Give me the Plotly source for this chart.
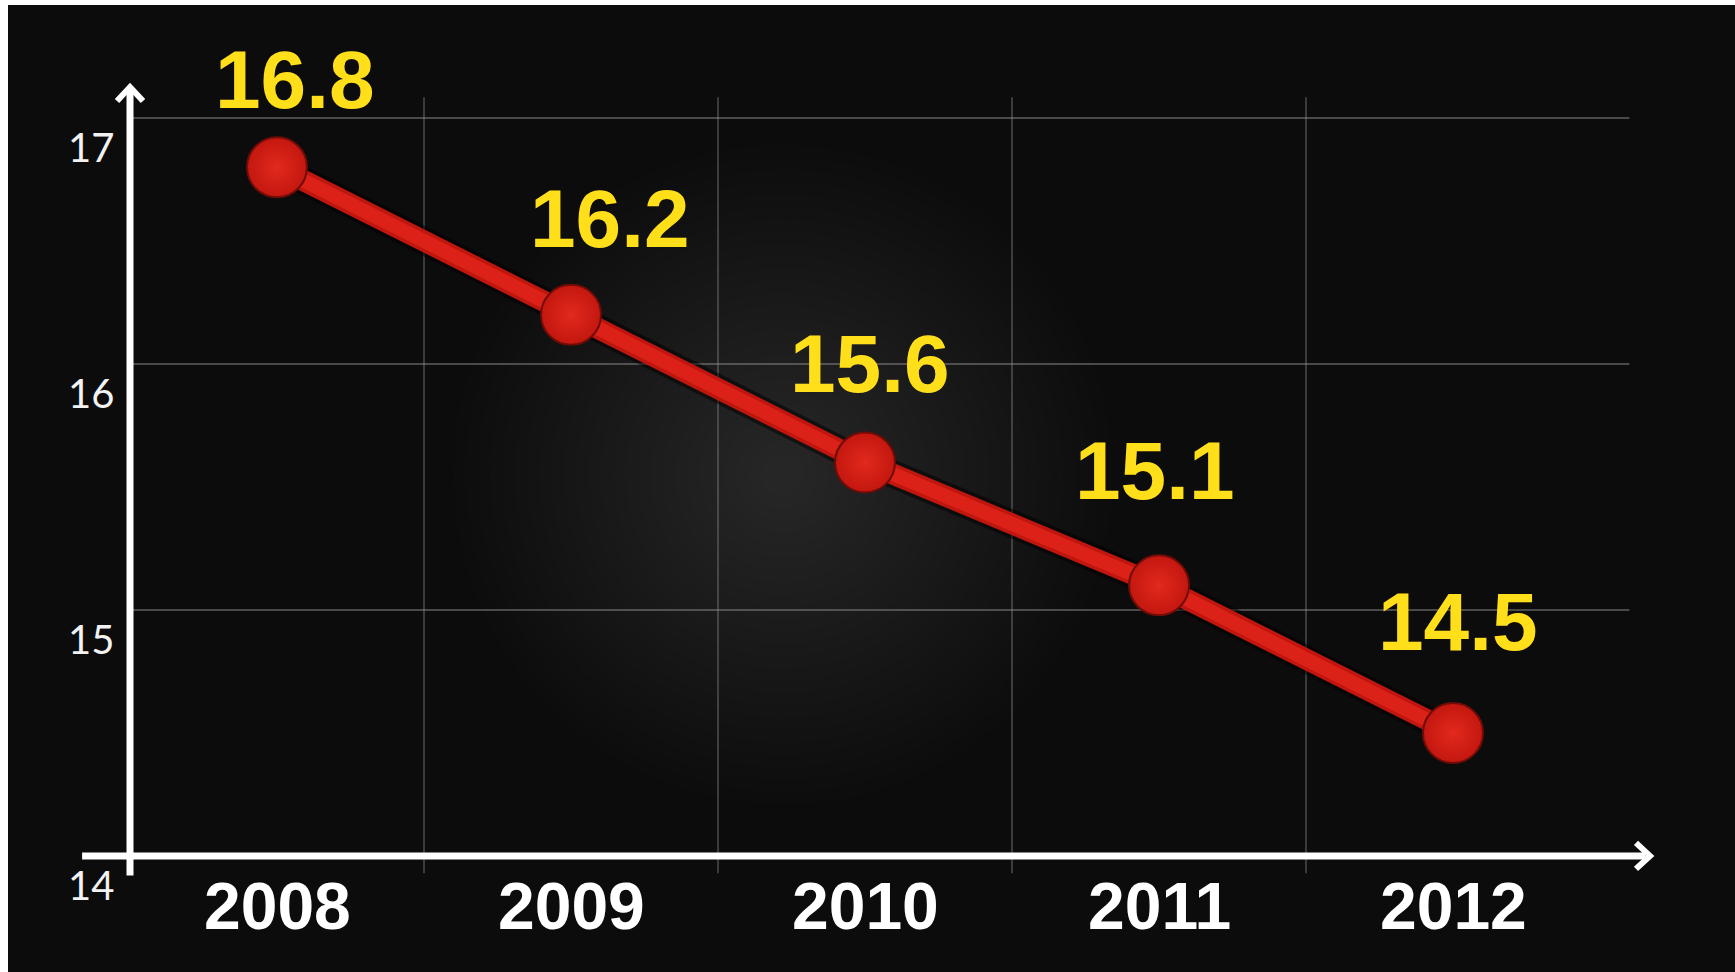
import plotly.graph_objects as go

# ---- data ----
years = ["2008", "2009", "2010", "2011", "2012"]
values = [16.8, 16.2, 15.6, 15.1, 14.5]
y_ticks = [14, 15, 16, 17]

# value label nudges (pixels) so each label sits clear of the line
label_dx = [18, 39, 5, -4, 5]
label_dy = [88, 96, 99, 115, 111]

xs = list(range(len(years)))

BG = "#0c0c0c"
YELLOW = "#ffde1a"
W, H = 1735, 972

# axis geometry in data units
X_MIN, X_MAX = -0.9422, 4.9592
Y_MIN, Y_MAX = 13.528, 17.480
AXIS_X = -0.5          # vertical axis sits half a step left of the first year
BASE_Y = y_ticks[0]    # horizontal axis sits at the lowest tick

fig = go.Figure()

# soft shadow under the tube
fig.add_trace(go.Scatter(
    x=xs, y=values, mode="lines",
    line=dict(color="rgba(0,0,0,0.5)", width=28),
    hoverinfo="skip", showlegend=False,
))
# red tube
fig.add_trace(go.Scatter(
    x=xs, y=values, mode="lines",
    line=dict(color="#bf160f", width=21),
    hoverinfo="skip", showlegend=False,
))
fig.add_trace(go.Scatter(
    x=xs, y=values, mode="lines",
    line=dict(color="#dc2218", width=14),
    hoverinfo="skip", showlegend=False,
))
# ball markers
fig.add_trace(go.Scatter(
    x=xs, y=values, mode="markers",
    marker=dict(
        size=60, color="#c3170f",
        gradient=dict(type="radial", color="#e2291d"),
        line=dict(color="#700c08", width=2),
    ),
    showlegend=False,
))

shapes = []

# radial glow behind the middle of the chart
n_glow = 26
for k in range(n_glow):
    r = 320 * (1 - k / n_glow) + 10
    shapes.append(dict(
        type="circle", layer="below",
        xref="x", yref="y", xsizemode="pixel", ysizemode="pixel",
        xanchor=1.72, yanchor=15.55,
        x0=-r, x1=r, y0=-r, y1=r,
        fillcolor="#7a7a7a", opacity=0.021, line=dict(width=0),
    ))

GRID = "rgba(150,150,150,0.45)"
# horizontal grid lines
for t in y_ticks[1:]:
    shapes.append(dict(type="line", layer="below", xref="x", yref="y",
                       x0=AXIS_X, x1=4.6, y0=t, y1=t,
                       line=dict(color=GRID, width=2)))
# vertical grid lines between the years
for i in range(len(years) - 1):
    shapes.append(dict(type="line", layer="below", xref="x", yref="y",
                       x0=i + 0.5, x1=i + 0.5, y0=13.93, y1=17.085,
                       line=dict(color="rgba(150,150,150,0.35)", width=2)))

# axes with arrow heads
AX = dict(color="white", width=7)
shapes.append(dict(type="line", xref="x", yref="y",
                   x0=-0.663, x1=4.655, y0=BASE_Y, y1=BASE_Y, line=AX))
shapes.append(dict(type="line", xref="x", yref="y",
                   x0=AXIS_X, x1=AXIS_X, y0=13.92, y1=17.11, line=AX))
shapes.append(dict(type="path", xref="x", yref="y",
                   xsizemode="pixel", ysizemode="pixel",
                   xanchor=4.67, yanchor=BASE_Y,
                   path="M -14,-13 L 0,0 L -14,13",
                   line=dict(color="white", width=6)))
shapes.append(dict(type="path", xref="x", yref="y",
                   xsizemode="pixel", ysizemode="pixel",
                   xanchor=AXIS_X, yanchor=17.126,
                   path="M -13,-14 L 0,0 L 13,-14",
                   line=dict(color="white", width=6)))

# white frame strips along the top and left edge
shapes.append(dict(type="rect", xref="paper", yref="paper",
                   x0=0, x1=8 / W, y0=0, y1=1,
                   fillcolor="white", line=dict(width=0)))
shapes.append(dict(type="rect", xref="paper", yref="paper",
                   x0=0, x1=1, y0=1 - 5 / H, y1=1,
                   fillcolor="white", line=dict(width=0)))

annotations = []
# value labels
for i, v in enumerate(values):
    annotations.append(dict(
        x=xs[i], y=v, xref="x", yref="y", text=f"{v:.1f}", showarrow=False,
        xshift=label_dx[i], yshift=label_dy[i],
        font=dict(family="Liberation Sans, Arial, sans-serif", size=82,
                  color=YELLOW, weight="bold"),
    ))
# year labels
for i, yr in enumerate(years):
    annotations.append(dict(
        x=xs[i], y=BASE_Y, xref="x", yref="y", text=yr, showarrow=False,
        yshift=-50,
        font=dict(family="Liberation Sans, Arial, sans-serif", size=66,
                  color="white", weight="bold"),
    ))
# y tick labels, set just under each grid line
for t in y_ticks:
    annotations.append(dict(
        x=AXIS_X, y=t, xref="x", yref="y", text=str(t), showarrow=False,
        xanchor="right", xshift=-14, yshift=-29,
        font=dict(family="Lato, sans-serif", size=40, color="#f2f2f2"),
    ))

fig.update_layout(
    width=W, height=H,
    margin=dict(l=0, r=0, t=0, b=0),
    paper_bgcolor=BG, plot_bgcolor=BG,
    xaxis=dict(range=[X_MIN, X_MAX], visible=False, fixedrange=True),
    yaxis=dict(range=[Y_MIN, Y_MAX], visible=False, fixedrange=True),
    shapes=shapes, annotations=annotations,
    showlegend=False,
)

fig.write_html("out.html")
